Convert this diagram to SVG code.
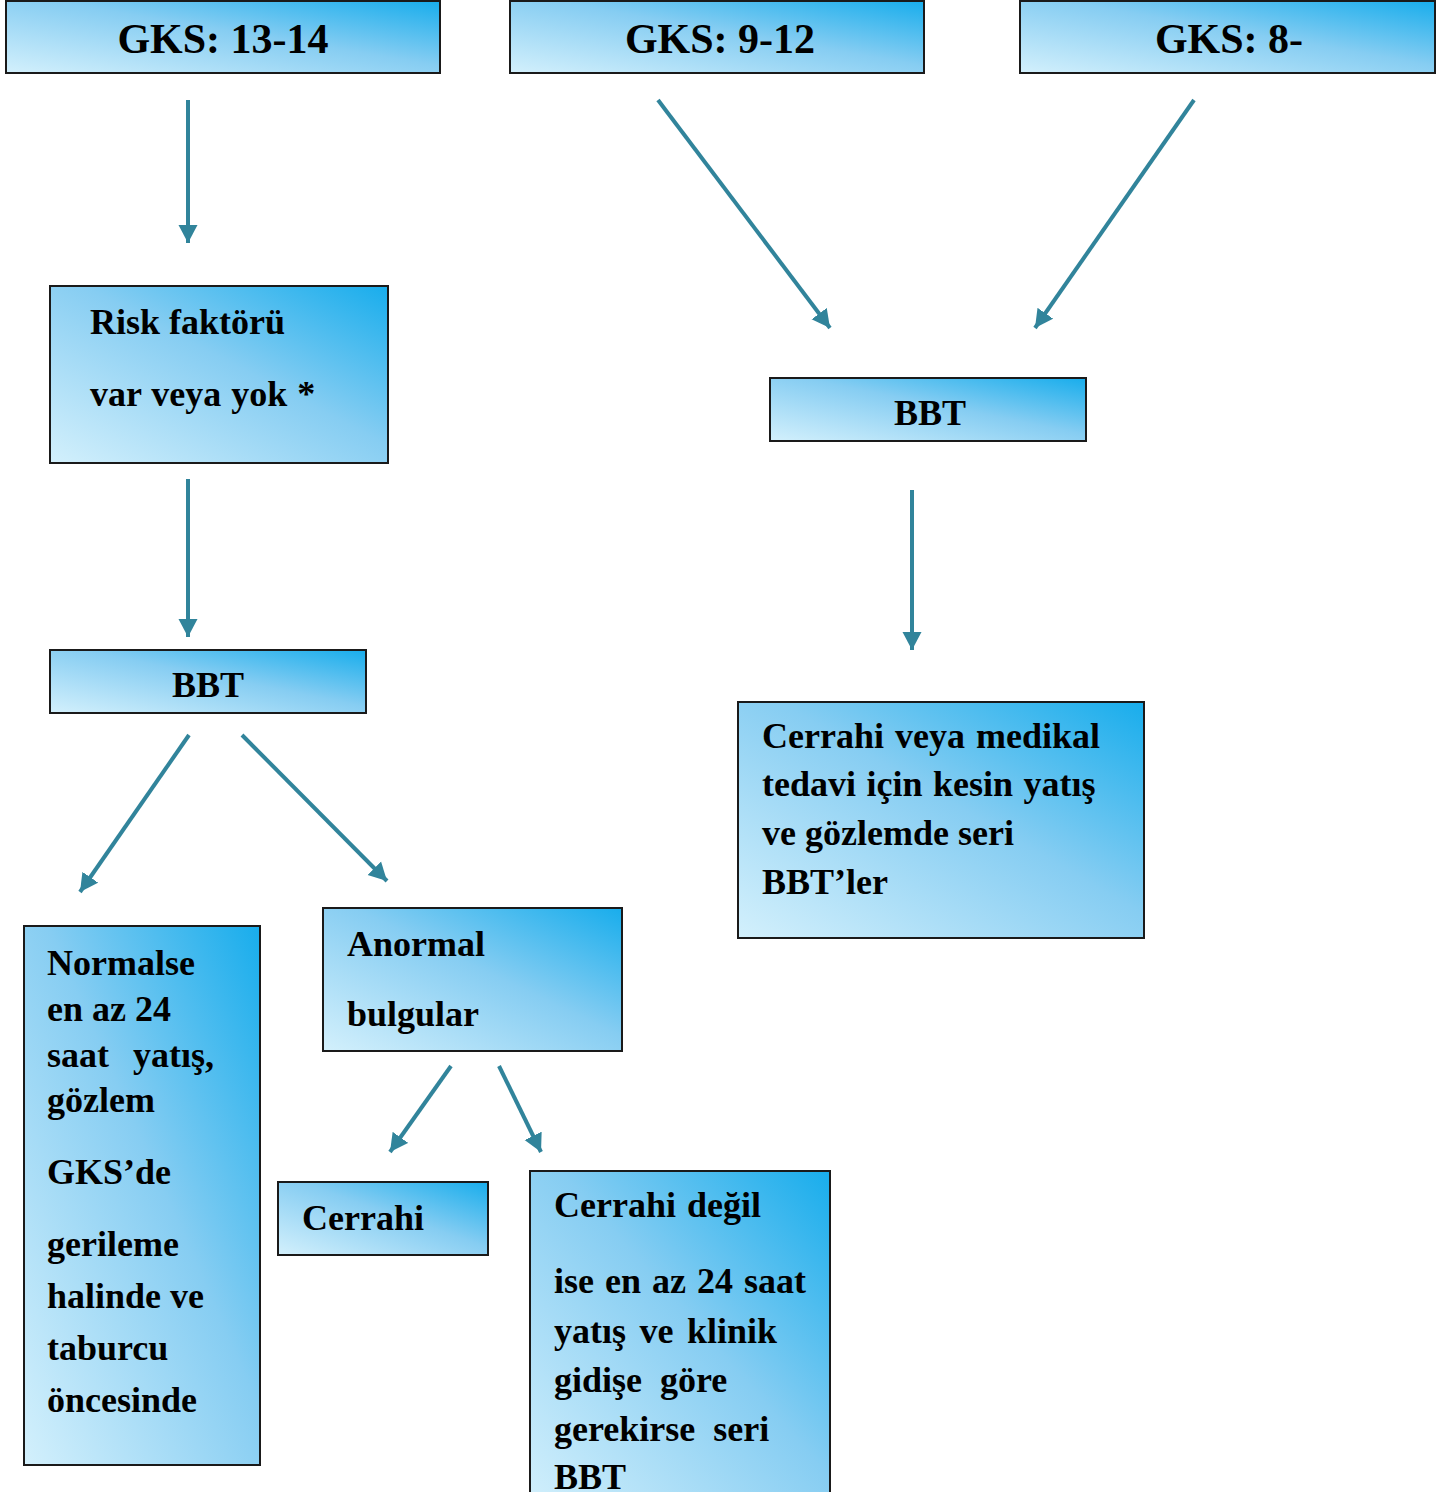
<svg xmlns="http://www.w3.org/2000/svg" width="1453" height="1492" viewBox="0 0 1453 1492">
<style>
.box{fill:url(#g);stroke:#1a1a1a;stroke-width:2}
text{font-family:"Liberation Serif","Times New Roman",serif;font-weight:bold;font-size:36px;fill:#000}
.big{font-size:42px}
.c{text-anchor:middle}
.conn line{stroke:#31849b;stroke-width:4;marker-end:url(#ah)}
</style>
<defs>
<linearGradient id="g" x1="0" y1="1" x2="1" y2="0">
<stop offset="0" stop-color="#d3f0fc"/>
<stop offset="0.55" stop-color="#86cdf2"/>
<stop offset="1" stop-color="#18adec"/>
</linearGradient>
<marker id="ah" markerUnits="userSpaceOnUse" markerWidth="20" markerHeight="20" refX="18" refY="10" orient="auto">
<path d="M0,0.5 L18,10 L0,19.5 z" fill="#31849b"/>
</marker>
</defs>
<rect width="1453" height="1492" fill="#fff"/>
<g class="conn">
<line x1="188" y1="100" x2="188" y2="243"/>
<line x1="658" y1="100" x2="830" y2="328"/>
<line x1="1194" y1="100" x2="1035" y2="328"/>
<line x1="188" y1="479" x2="188" y2="637"/>
<line x1="912" y1="490" x2="912" y2="650"/>
<line x1="189" y1="735" x2="80" y2="892"/>
<line x1="242" y1="735" x2="387" y2="881"/>
<line x1="451" y1="1066" x2="390" y2="1152"/>
<line x1="499" y1="1066" x2="541" y2="1152"/>
</g>
<g id="gks1314"><rect class="box" x="6" y="1" width="434" height="72"/><text class="big c" x="223" y="53">GKS: 13-14</text></g>
<g id="gks912"><rect class="box" x="510" y="1" width="414" height="72"/><text class="big c" x="720" y="53">GKS: 9-12</text></g>
<g id="gks8"><rect class="box" x="1020" y="1" width="415" height="72"/><text class="big c" x="1229" y="53">GKS: 8-</text></g>
<g id="risk"><rect class="box" x="50" y="286" width="338" height="177"/><text x="90" y="334">Risk faktörü</text><text x="90" y="406" word-spacing="1">var veya yok *</text></g>
<g id="bbt1"><rect class="box" x="50" y="650" width="316" height="63"/><text class="c" x="208" y="697">BBT</text></g>
<g id="bbt2"><rect class="box" x="770" y="378" width="316" height="63"/><text class="c" x="930" y="425">BBT</text></g>
<g id="cerrahiveya"><rect class="box" x="738" y="702" width="406" height="236"/>
<text x="762" y="748" word-spacing="2">Cerrahi veya medikal</text><text x="762" y="796" word-spacing="1.5">tedavi için kesin yatış</text><text x="762" y="845">ve gözlemde seri</text><text x="762" y="894">BBT’ler</text></g>
<g id="normalse"><rect class="box" x="24" y="926" width="236" height="539"/>
<text x="47" y="975">Normalse</text><text x="47" y="1021">en az 24</text><text x="47" y="1067" xml:space="preserve" word-spacing="3">saat  yatış,</text><text x="47" y="1112">gözlem</text><text x="47" y="1184">GKS’de</text><text x="47" y="1256">gerileme</text><text x="47" y="1308">halinde ve</text><text x="47" y="1360">taburcu</text><text x="47" y="1412">öncesinde</text></g>
<g id="anormal"><rect class="box" x="323" y="908" width="299" height="143"/><text x="347" y="956">Anormal</text><text x="347" y="1026">bulgular</text></g>
<g id="cerrahi"><rect class="box" x="278" y="1182" width="210" height="73"/><text x="302" y="1230">Cerrahi</text></g>
<g id="cerrahidegil"><rect class="box" x="530" y="1171" width="300" height="340"/>
<text x="554" y="1217" word-spacing="2">Cerrahi değil</text><text x="554" y="1293" word-spacing="2">ise en az 24 saat</text><text x="554" y="1343" word-spacing="4.5">yatış ve klinik</text><text x="554" y="1392" word-spacing="9">gidişe göre</text><text x="554" y="1441" word-spacing="9">gerekirse seri</text><text x="554" y="1489">BBT</text></g>
</svg>
